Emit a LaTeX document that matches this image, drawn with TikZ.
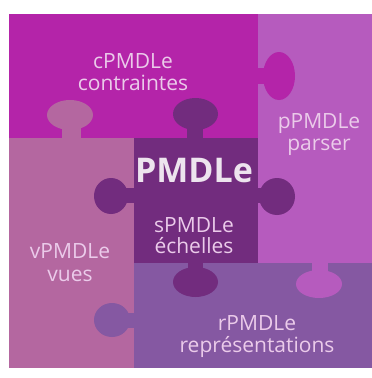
\documentclass[tikz,border=0pt]{standalone}
\usepackage{fontspec}
\setmainfont{Open Sans}
\definecolor{cC}{HTML}{B424A9}
\definecolor{cP}{HTML}{B65BBE}
\definecolor{cS}{HTML}{722C7E}
\definecolor{cV}{HTML}{B467A0}
\definecolor{cR}{HTML}{8558A2}
\definecolor{lbltxt}{HTML}{EBCBEA}
\definecolor{titletxt}{HTML}{EDE4EE}
\begin{document}
\begin{tikzpicture}[x=1pt,y=-1pt,
  lbl/.style={text=lbltxt, font=\fontsize{21}{21}\selectfont, anchor=base, inner sep=0pt},
  ttl/.style={text=titletxt, font=\fontsize{34}{34}\selectfont\bfseries, anchor=base, inner sep=0pt}]
\useasboundingbox[fill=white] (0,0) rectangle (372,378);
% pieces
\fill[cC] (9,14) rectangle (258,138);
\fill[cP] (258,14) rectangle (372,263);
\fill[cS] (134,138) rectangle (258,263);
\fill[cV] (9,138) rectangle (134,368);
\fill[cR] (134,263) rectangle (372,368);
% tabs
% v into c
\fill[cV] (62,125) rectangle (81,138.5);
\fill[cV] (70,115) ellipse [x radius=23pt, y radius=15pt];
% s into c
\fill[cS] (187,125) rectangle (203,138.5);
\fill[cS] (195.5,114) ellipse [x radius=22.5pt, y radius=16pt];
% c into p
\fill[cC] (257.5,68) rectangle (268,84);
\fill[cC] (279,76) ellipse [x radius=16pt, y radius=24pt];
% s into v (left)
\fill[cS] (124,188) rectangle (134.5,203);
\fill[cS] (111,196) ellipse [x radius=17pt, y radius=18pt];
% s into p (right)
\fill[cS] (257.5,188) rectangle (266,203);
\fill[cS] (277,196.5) ellipse [x radius=18pt, y radius=18.5pt];
% s into r (bottom)
\fill[cS] (188,262.5) rectangle (203,273);
\fill[cS] (195.5,282) ellipse [x radius=22.5pt, y radius=15pt];
% p into r (bottom)
\fill[cP] (312,262.5) rectangle (328,274);
\fill[cP] (319,284) ellipse [x radius=23pt, y radius=14pt];
% r into v (left)
\fill[cR] (124,313) rectangle (134.5,328);
\fill[cR] (112,320) ellipse [x radius=18pt, y radius=17pt];
% labels
\node[lbl] (c1) at (133,68) {cPMDLe};
\node[lbl] (c2) at (133,90) {contraintes};
\node[lbl] (p1) at (319,128) {pPMDLe};
\node[lbl] (p2) at (319,150) {parser};
\node[ttl] (s0) at (194,182) {PMDLe};
\node[lbl] (s1) at (194,232) {sPMDLe};
\node[lbl] (s2) at (194,253) {échelles};
\node[lbl] (v1) at (70,258) {vPMDLe};
\node[lbl] (v2) at (70,281) {vues};
\node[lbl] (r1) at (257,330) {rPMDLe};
\node[lbl] (r2) at (257,352) {représentations};
\end{tikzpicture}
\end{document}
